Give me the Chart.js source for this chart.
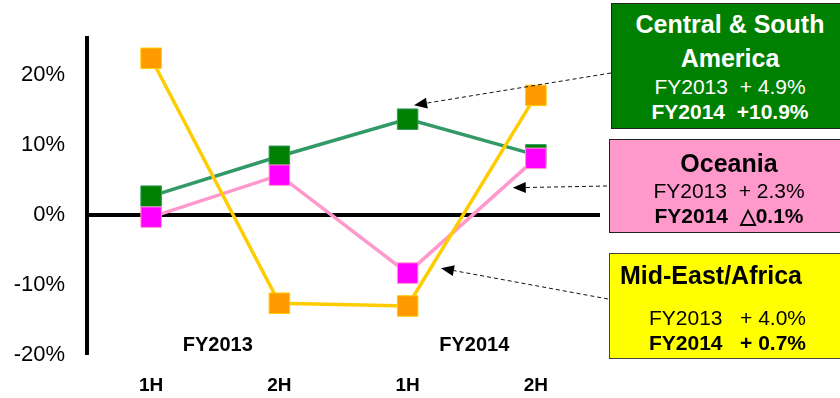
<!DOCTYPE html>
<html>
<head>
<meta charset="utf-8">
<script src="https://cdn.jsdelivr.net/npm/chart.js@4/dist/chart.umd.min.js"></script>
<style>
  html, body { margin: 0; padding: 0; background: #fff; }
  #wrap { position: relative; width: 840px; height: 398px; overflow: hidden; font-family: "Liberation Sans", Arial, sans-serif; }
  canvas { position: absolute; left: 0; top: 0; }
  .box { position: absolute; box-sizing: border-box; border: 1px solid #222; }
  .ln { position: absolute; white-space: pre; line-height: 1; }
  .c { left: 0; right: 0; text-align: center; }
  .t { font-size: 25px; font-weight: bold; }
  .v { font-size: 21px; }
  .b { font-weight: bold; }
</style>
</head>
<body>
<div id="wrap">
  <canvas id="chart" width="840" height="398"></canvas>

  <div class="box" style="left:611px; top:3px; width:238px; height:126px; background:#008000; color:#fff;">
    <div class="ln c t" style="top:8px;">Central &amp; South</div>
    <div class="ln c t" style="top:42px;">America</div>
    <div class="ln c v" style="top:72px;">FY2013  + 4.9%</div>
    <div class="ln c v b" style="top:97px;">FY2014  +10.9%</div>
  </div>

  <div class="box" style="left:609px; top:139px; width:240px; height:94px; background:#FF99CC; color:#000;">
    <div class="ln c t" style="top:11px;">Oceania</div>
    <div class="ln c v" style="top:40px;">FY2013  + 2.3%</div>
    <div class="ln c v b" style="top:65px;">FY2014  △0.1%</div>
  </div>

  <div class="box" style="left:609px; top:253px; width:240px; height:106px; background:#FFFF00; color:#000; border-color:#444;">
    <div class="ln t" style="left:10px; top:9px;">Mid-East/Africa</div>
    <div class="ln v" style="left:39px; top:53px;">FY2013   + 4.0%</div>
    <div class="ln v b" style="left:39px; top:78px;">FY2014   + 0.7%</div>
  </div>
</div>

<script>
// Half-year periods along the x axis, grouped by fiscal year
const periods = ['1H', '2H', '1H', '2H'];
const fiscalYears = ['FY2013', 'FY2014'];

// Year-on-year growth (%) per half-year
const centralSouthAmerica = [2.7, 8.4, 13.7, 8.6];
const oceania = [-0.3, 5.7, -8.3, 8.1];
const midEastAfrica = [22.4, -12.6, -13.0, 17.1];

// Y axis tick values (%)
const yTicks = [-20, -10, 0, 10, 20];

// Callout arrows: head in data space (category index, %), tail at the region box edge
const callouts = [
  { head: [2.05, 15.7], tail: [611, 73] },
  { head: [2.82, 3.9], tail: [607, 186] },
  { head: [2.26, -7.6], tail: [608, 299] }
];

// Fiscal-year captions drawn between each pair of halves
const yearCaptionPositions = [0.52, 2.52];
const yearCaptionValue = -18.7;

const fyLabels = {
  id: 'fyLabels',
  afterDatasetsDraw(chart) {
    const { ctx, scales: { x, y } } = chart;
    ctx.save();
    ctx.font = 'bold 20px "Liberation Sans", Arial, sans-serif';
    ctx.fillStyle = '#000';
    ctx.textAlign = 'center';
    ctx.textBaseline = 'middle';
    fiscalYears.forEach((fy, i) => {
      ctx.fillText(fy, x.getPixelForValue(yearCaptionPositions[i]), y.getPixelForValue(yearCaptionValue));
    });
    ctx.restore();
  }
};

const calloutArrows = {
  id: 'calloutArrows',
  afterDatasetsDraw(chart) {
    const { ctx, scales: { x, y } } = chart;
    ctx.save();
    callouts.forEach(c => {
      const hx = x.getPixelForValue(c.head[0]);
      const hy = y.getPixelForValue(c.head[1]);
      const [tx, ty] = c.tail;
      const ang = Math.atan2(hy - ty, hx - tx);
      const len = 13, half = 5.5;
      const bx = hx - len * Math.cos(ang), by = hy - len * Math.sin(ang);
      ctx.strokeStyle = '#111';
      ctx.lineWidth = 1;
      ctx.setLineDash([4, 3]);
      ctx.beginPath();
      ctx.moveTo(tx, ty);
      ctx.lineTo(bx, by);
      ctx.stroke();
      ctx.setLineDash([]);
      ctx.fillStyle = '#000';
      ctx.beginPath();
      ctx.moveTo(hx, hy);
      ctx.lineTo(bx + half * Math.sin(ang), by - half * Math.cos(ang));
      ctx.lineTo(bx - half * Math.sin(ang), by + half * Math.cos(ang));
      ctx.closePath();
      ctx.fill();
    });
    ctx.restore();
  }
};

function series(label, data, line, fill, edge, order) {
  return {
    label, data, order,
    borderColor: line,
    borderWidth: 3.5,
    pointStyle: 'rect',
    pointRadius: 14.5,
    pointHoverRadius: 14.5,
    pointBackgroundColor: fill,
    pointBorderColor: edge,
    pointBorderWidth: 1,
    tension: 0,
    fill: false
  };
}

new Chart(document.getElementById('chart'), {
  type: 'line',
  data: {
    labels: periods,
    datasets: [
      series('Mid-East/Africa', midEastAfrica, '#FFCC00', '#FF9900', '#FFCC00', 1),
      series('Oceania', oceania, '#FF99CC', '#FF00FF', '#FF99CC', 2),
      series('Central & South America', centralSouthAmerica, '#339966', '#008000', '#339966', 3)
    ]
  },
  options: {
    responsive: false,
    animation: false,
    events: [],
    layout: { padding: { top: 38, right: 240, left: 0, bottom: 0 } },
    plugins: { legend: { display: false }, tooltip: { enabled: false } },
    scales: {
      x: {
        type: 'category',
        offset: true,
        grid: { display: false },
        border: { display: false },
        ticks: {
          padding: 11,
          color: '#000',
          font: { family: '"Liberation Sans", Arial, sans-serif', size: 19, weight: 'bold' }
        },
        afterFit(scale) { scale.height = 43; }
      },
      y: {
        min: -20,
        max: 25.3,
        afterBuildTicks(scale) { scale.ticks = yTicks.map(v => ({ value: v })); },
        grid: {
          drawTicks: false,
          color: c => (c.tick && c.tick.value === 0 ? '#000' : 'rgba(0,0,0,0)'),
          lineWidth: c => (c.tick && c.tick.value === 0 ? 4 : 0)
        },
        border: { display: true, color: '#000', width: 4 },
        ticks: {
          padding: 22,
          color: '#000',
          font: { family: '"Liberation Sans", Arial, sans-serif', size: 22 },
          callback: v => v + '%'
        },
        afterFit(scale) { scale.width = 87; }
      }
    }
  },
  plugins: [fyLabels, calloutArrows]
});
</script>
</body>
</html>
